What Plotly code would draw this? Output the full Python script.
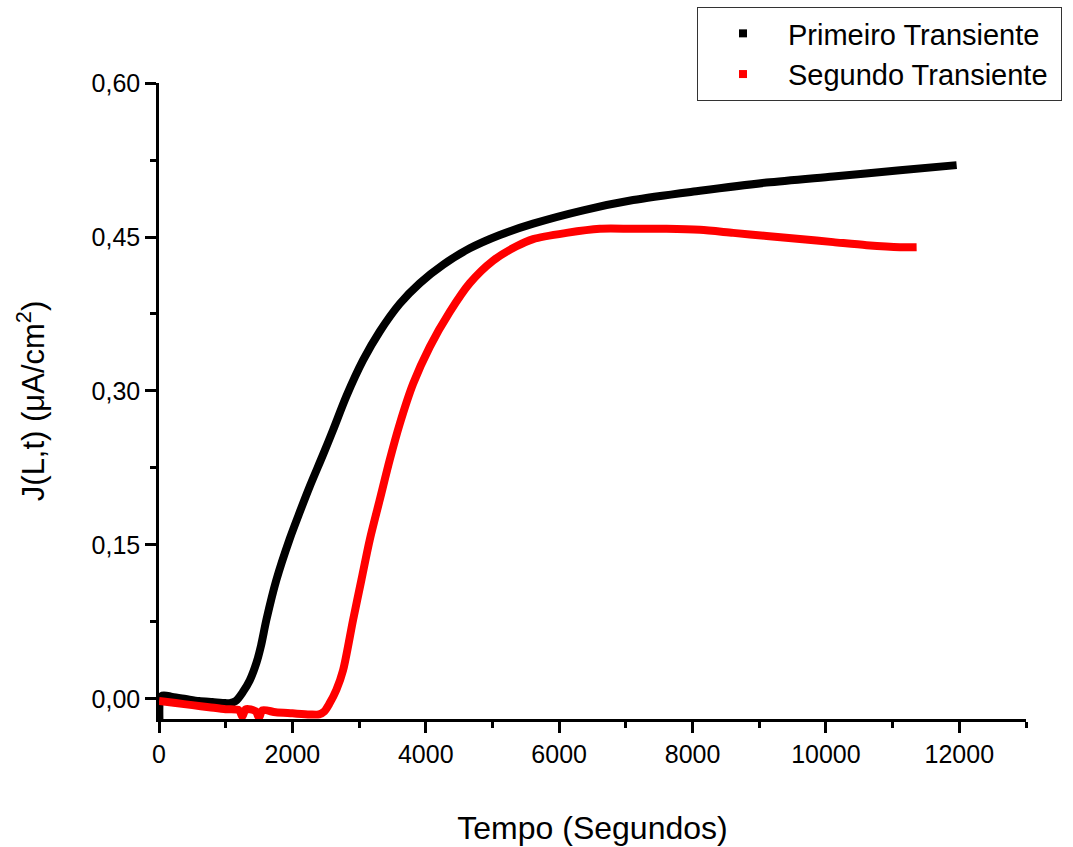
import plotly.graph_objects as go

# ---- data ----
black_t = [0, 15, 40, 200, 400, 600, 800, 1000, 1060, 1150, 1260, 1360, 1460, 1530,
           1610, 1760, 1960, 2110, 2260, 2460, 2610, 2810, 3060, 3310, 3610, 3910,
           4260, 4660, 5110, 5610, 6360, 7110, 8110, 9110, 10110, 11110, 11960]
black_J = [0.003, -0.04, 0.003, 0.002, 0.000, -0.002, -0.003, -0.004, -0.004, -0.002,
           0.007, 0.018, 0.035, 0.052, 0.077, 0.116, 0.156, 0.182, 0.207, 0.238, 0.262,
           0.295, 0.330, 0.358, 0.385, 0.405, 0.423, 0.439, 0.452, 0.463, 0.476, 0.486,
           0.495, 0.503, 0.509, 0.515, 0.520]

red_t = [0, 250, 500, 750, 1000, 1200, 1250, 1300, 1450, 1500, 1550, 1750, 2000, 2260,
         2400, 2480, 2560, 2660, 2760, 2910, 3035, 3160, 3310, 3460, 3610, 3810, 4060,
         4360, 4660, 5010, 5360, 5610, 6110, 6610, 7110, 7610, 8110, 8610, 9110, 9610,
         10110, 10610, 11110, 11360]
red_J = [-0.002, -0.004, -0.006, -0.008, -0.010, -0.011, -0.017, -0.010, -0.012, -0.018,
         -0.011, -0.013, -0.014, -0.015, -0.015, -0.012, -0.004, 0.009, 0.028, 0.077,
         0.116, 0.155, 0.194, 0.233, 0.268, 0.307, 0.343, 0.377, 0.405, 0.427, 0.441,
         0.448, 0.454, 0.458, 0.458, 0.458, 0.457, 0.454, 0.451, 0.448, 0.445, 0.442,
         0.440, 0.440]

series_names = ["Primeiro Transiente", "Segundo Transiente"]
series_colors = ["#000000", "#ff0000"]

x_tick_vals = [0, 2000, 4000, 6000, 8000, 10000, 12000]
x_tick_text = ["0", "2000", "4000", "6000", "8000", "10000", "12000"]
y_tick_vals = [0.0, 0.15, 0.30, 0.45, 0.60]
y_tick_text = ["0,00", "0,15", "0,30", "0,45", "0,60"]

FONT = "Liberation Sans, Arial, sans-serif"

fig = go.Figure()
for t, j, c in [(black_t, black_J, series_colors[0]), (red_t, red_J, series_colors[1])]:
    fig.add_trace(go.Scatter(x=t, y=j, mode="lines",
                             line=dict(color=c, width=8, shape="spline", smoothing=0.8),
                             showlegend=False, hoverinfo="skip"))
for name, c in zip(series_names, series_colors):
    fig.add_trace(go.Scatter(x=[None], y=[None], mode="markers",
                             name=name + "\u00a0",
                             marker=dict(symbol="square", size=8, color=c)))

axis_common = dict(showline=True, linecolor="black", linewidth=2.5, ticks="outside",
                   ticklen=11, tickwidth=2.5, tickcolor="black", showgrid=False,
                   zeroline=False, mirror=False,
                   tickfont=dict(family=FONT, size=25, color="black"))

fig.update_layout(
    width=1073, height=847,
    margin=dict(l=159, r=47, t=83, b=128, autoexpand=False),
    paper_bgcolor="white", plot_bgcolor="white",
    font=dict(family=FONT, color="black"),
    xaxis=dict(range=[0, 13000], tickmode="array", tickvals=x_tick_vals,
               ticktext=x_tick_text,
               minor=dict(ticks="outside", ticklen=6, tickwidth=2.5, tickcolor="black",
                          tick0=0, dtick=1000),
               title=dict(text="Tempo (Segundos)", font=dict(family=FONT, size=32),
                          standoff=50),
               automargin=False, **axis_common),
    yaxis=dict(range=[-0.0195, 0.60], tickmode="array", tickvals=y_tick_vals,
               ticktext=y_tick_text,
               minor=dict(ticks="outside", ticklen=6, tickwidth=2.5, tickcolor="black",
                          tick0=0, dtick=0.075),
               title=dict(text="J(L,t) (μA/cm<sup>2</sup>)", font=dict(family=FONT, size=31),
                          standoff=38),
               automargin=False, **axis_common),
    legend=dict(x=0.6205, y=1.1195, xanchor="left", yanchor="top",
                bordercolor="#333333", borderwidth=1, bgcolor="white",
                font=dict(family=FONT, size=29, color="black"), itemwidth=80,
                tracegroupgap=0),
)

fig.write_html("out.html")
